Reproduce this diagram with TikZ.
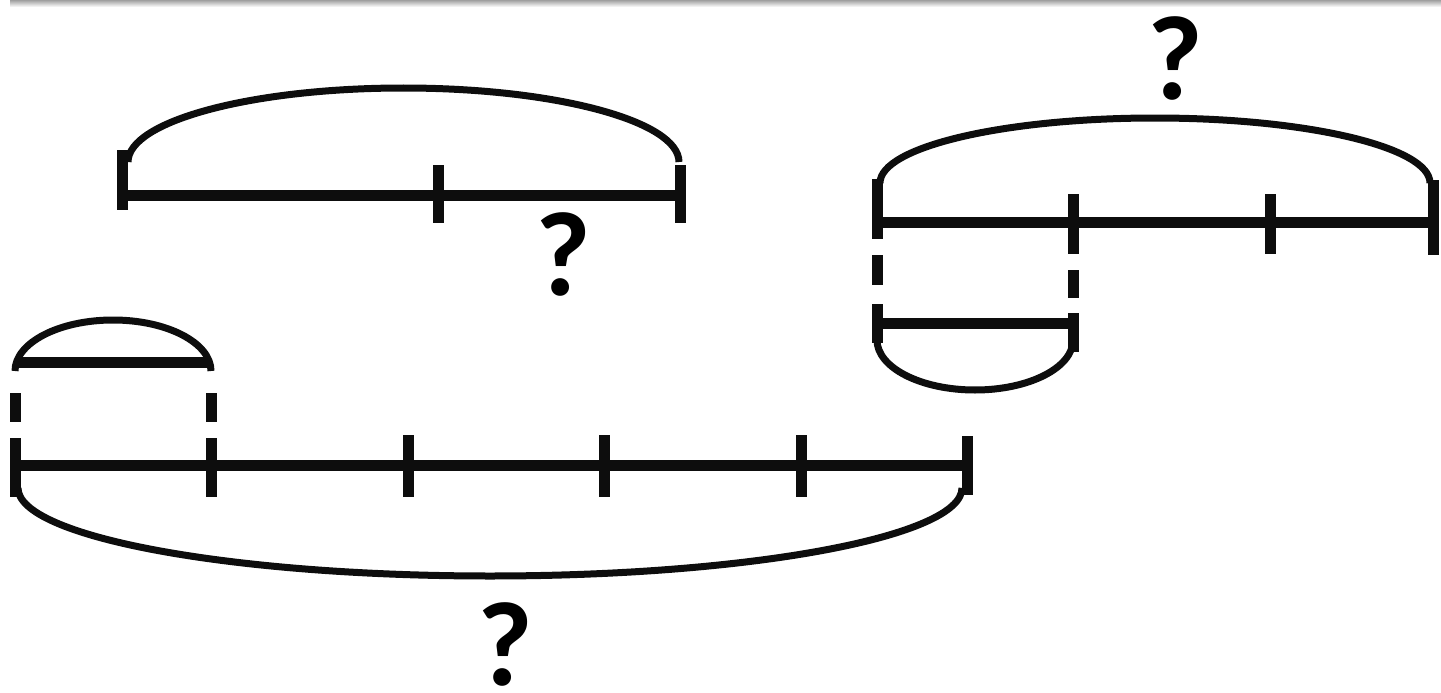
\documentclass[tikz,border=0pt]{standalone}
\usepackage{fontspec}
\setmainfont{Carlito}
\begin{document}
\begin{tikzpicture}[x=1pt,y=-1pt,
  bar/.style={line width=11pt,line cap=butt,black!95},
  arcl/.style={line width=7pt,black!95},
  qm/.style={font=\fontsize{120}{120}\selectfont\bfseries,inner sep=0pt,anchor=center}]
\useasboundingbox (0,0) rectangle (1441,693);
\shade[top color=gray!75,bottom color=white] (10,0) rectangle (1441,7);
% top-left
\draw[bar] (122,195) -- (680,195);
\draw[bar] (122,150) -- (122,210);
\draw[bar] (438,165) -- (438,223);
\draw[bar] (680,165) -- (680,223);
\draw[arcl] (128,162) arc[start angle=180,end angle=360,x radius=275.5,y radius=74];
\node[qm] (q1) at (563,254) {?};
% top-right
\draw[bar] (877,222) -- (1433,222);
\draw[bar] (877,179) -- (877,239);
\draw[bar] (1073,194) -- (1073,254);
\draw[bar] (1270,194) -- (1270,254);
\draw[bar] (1433,180) -- (1433,255);
\draw[arcl] (880,183) arc[start angle=180,end angle=360,x radius=275,y radius=65];
\node[qm] (q2) at (1175,58) {?};
\draw[bar] (877,255) -- (877,285);
\draw[bar] (877,304) -- (877,343);
\draw[bar] (1073,270) -- (1073,298);
\draw[bar] (1073,313) -- (1073,352);
\draw[bar] (877,323) -- (1073,323);
\draw[arcl] (877,340) arc[start angle=180,end angle=0,x radius=98,y radius=50];
% bottom-left
\draw[bar] (15,465) -- (967,465);
\draw[bar] (15,438) -- (15,497);
\draw[bar] (211,438) -- (211,497);
\draw[bar] (408,435) -- (408,497);
\draw[bar] (604,435) -- (604,497);
\draw[bar] (801,435) -- (801,497);
\draw[bar] (967,436) -- (967,495);
\draw[arcl] (18,488) arc[start angle=180,end angle=0,x radius=472,y radius=88];
\node[qm] (q3) at (505,644) {?};
\draw[bar] (15,393) -- (15,422);
\draw[bar] (211,393) -- (211,422);
\draw[bar] (18,362) -- (211,362);
\draw[arcl] (15,371) arc[start angle=180,end angle=360,x radius=98,y radius=51];
\end{tikzpicture}
\end{document}
